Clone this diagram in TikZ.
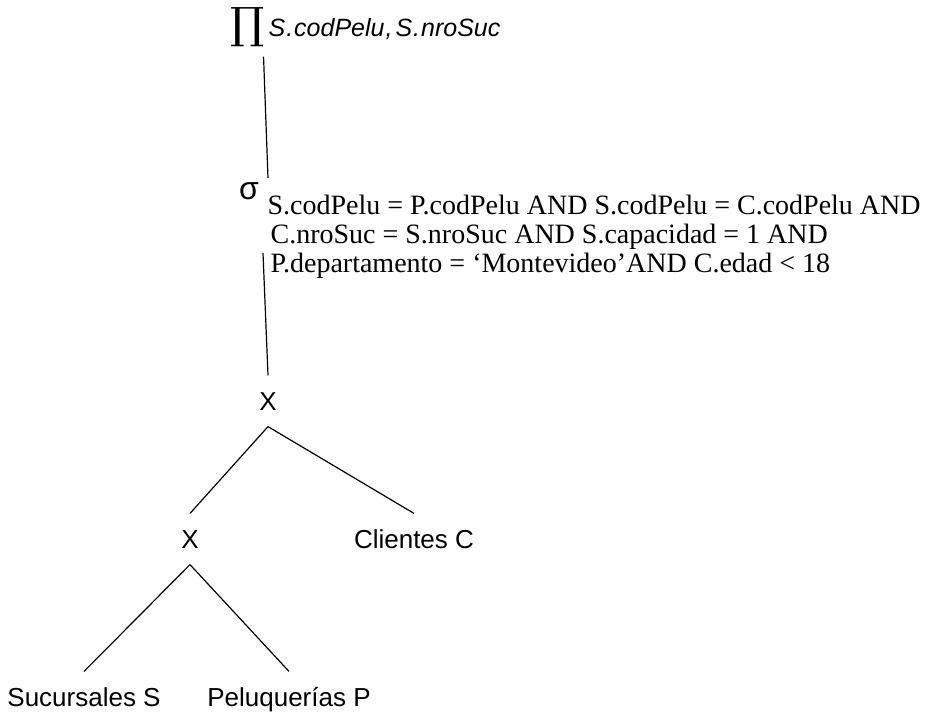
\documentclass[tikz,border=0pt]{standalone}
\usepackage{fontspec}
\setmainfont{Liberation Serif}
\newfontfamily\arialfont{Liberation Sans}
\newfontfamily\symbfont{DejaVu Serif}
\begin{document}
\begin{tikzpicture}[x=1pt, y=-1pt, line width=1.2pt,
    rel/.style={font=\arialfont\fontsize{26}{26}\selectfont, anchor=base,
        text height=18pt, text depth=0pt, inner xsep=0pt, inner ysep=16pt},
    cond/.style={font=\fontsize{28}{29}\selectfont, anchor=base west, inner sep=0pt}]
    \useasboundingbox (0,0) rectangle (926,713);

    % Projection and selection
    \node[inner sep=0pt] (prod) at (247.5,27.5) {\symbfont\fontsize{43}{43}\selectfont ∏};
    \node[anchor=base west, inner sep=0pt, font=\arialfont\itshape\fontsize{25}{25}\selectfont]
        (attr) at (268,36) {S\kern1pt.\kern1pt codPelu\kern1pt,\kern3pt S\kern1pt.\kern1pt nroSuc};
    \node[anchor=base, inner sep=0pt, font=\arialfont\fontsize{32}{32}\selectfont] (sig) at (249,199) {σ};
    \node[cond] (cond1) at (267,214) {S.codPelu = P.codPelu AND S.codPelu = C.codPelu AND};
    \node[cond] (cond2) at (270,243) {C.nroSuc = S.nroSuc AND S.capacidad = 1 AND};
    \node[cond] (cond3) at (270,272) {P.departamento = ‘Montevideo’AND C.edad < 18};
    \coordinate (selin) at (268,178);
    \coordinate (selout) at (263,253);

    % Products and relations
    \node[rel] (x1) at (268,410) {X};
    \node[rel] (x2) at (190,548) {X};
    \node[rel] (cli) at (414,548) {Clientes C};
    \node[rel] (suc) at (84,706) {Sucursales S};
    \node[rel] (pel) at (289,706) {Peluquerías P};

    % Edges
    \draw[shorten <=9pt] ([xshift=-2pt]prod.south east) -- (selin);
    \draw (selout) -- (x1.north);
    \draw (x1.south) -- (x2.north);
    \draw (x1.south) -- (cli.north);
    \draw (x2.south) -- (suc.north);
    \draw (x2.south) -- (pel.north);
\end{tikzpicture}
\end{document}
